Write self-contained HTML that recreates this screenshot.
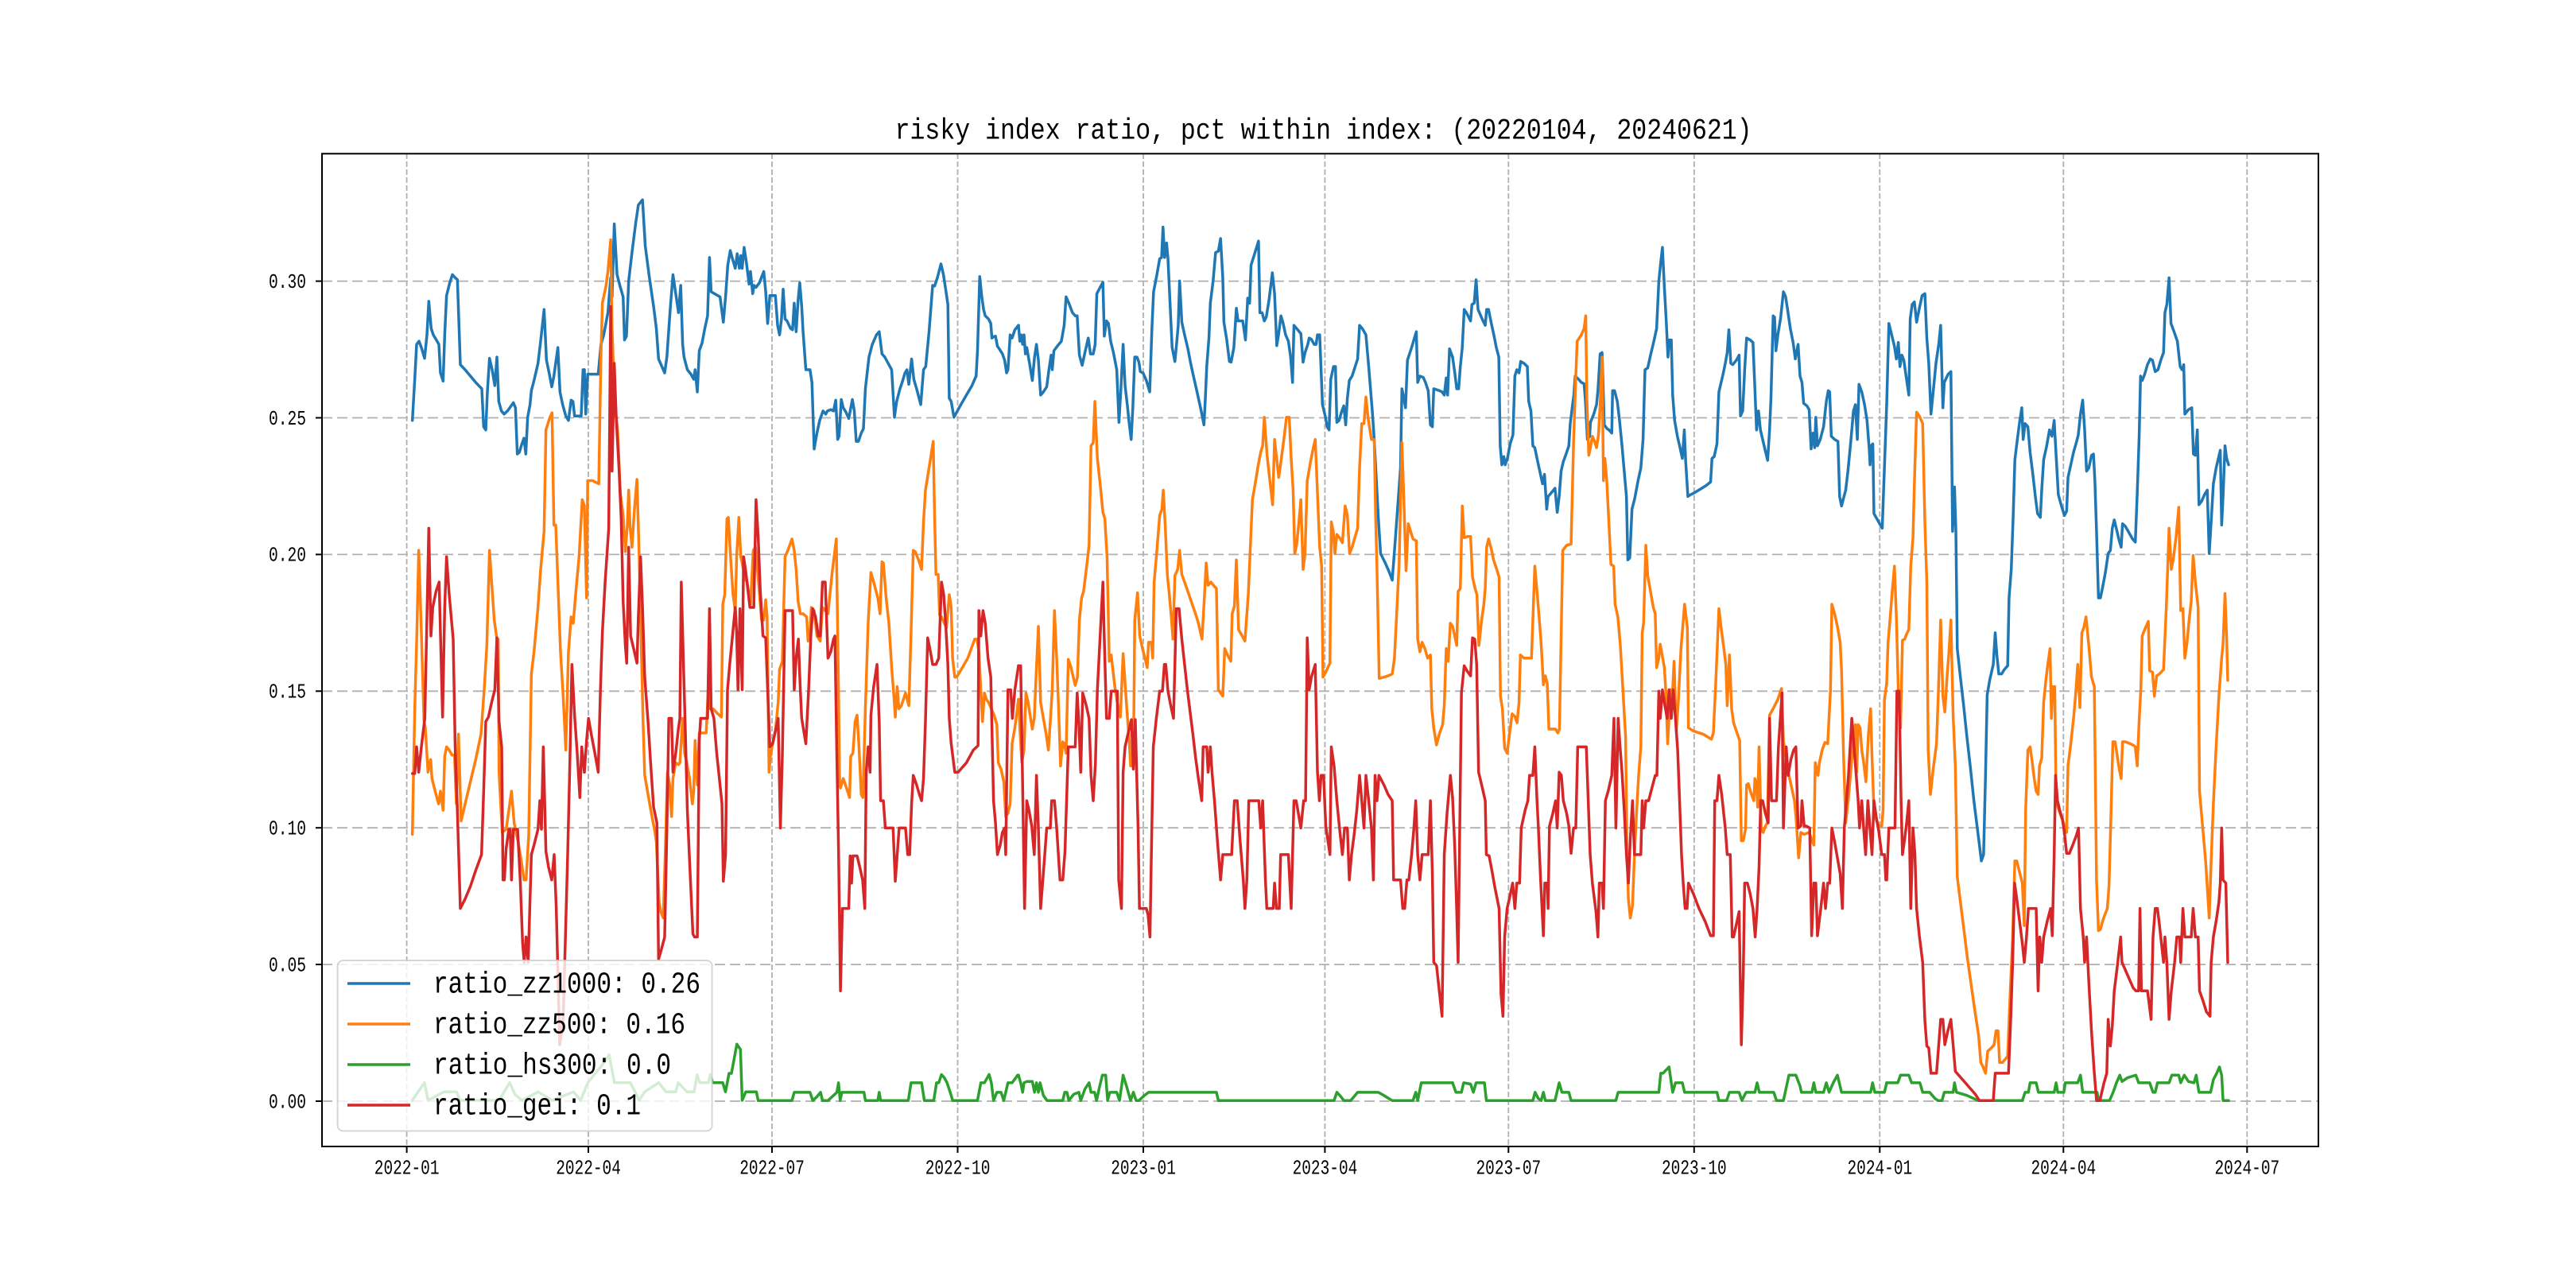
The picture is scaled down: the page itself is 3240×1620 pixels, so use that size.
<!DOCTYPE html>
<html><head><meta charset="utf-8"><style>html,body{margin:0;padding:0;background:#fff}svg{display:block}</style></head>
<body>
<svg xmlns="http://www.w3.org/2000/svg" width="3240" height="1620" viewBox="0 0 3240 1620">
<rect width="3240" height="1620" fill="#fff"/>
<text x="1125.6" y="174.3" font-family="Liberation Mono, monospace" font-size="37" textLength="1078" lengthAdjust="spacingAndGlyphs" fill="#000">risky index ratio, pct within index: (20220104, 20240621)</text>
<g stroke="#b0b0b0" stroke-width="1.8" fill="none">
<g stroke-dasharray="13,6">
<line x1="405" y1="1385" x2="2916" y2="1385"/><line x1="405" y1="1213.1" x2="2916" y2="1213.1"/><line x1="405" y1="1041.2" x2="2916" y2="1041.2"/><line x1="405" y1="869.3" x2="2916" y2="869.3"/><line x1="405" y1="697.4" x2="2916" y2="697.4"/><line x1="405" y1="525.5" x2="2916" y2="525.5"/><line x1="405" y1="353.6" x2="2916" y2="353.6"/>
</g>
<g stroke-dasharray="7,3">
<line x1="511.6" y1="193" x2="511.6" y2="1442"/><line x1="740" y1="193" x2="740" y2="1442"/><line x1="971" y1="193" x2="971" y2="1442"/><line x1="1204.5" y1="193" x2="1204.5" y2="1442"/><line x1="1438" y1="193" x2="1438" y2="1442"/><line x1="1666.4" y1="193" x2="1666.4" y2="1442"/><line x1="1897.3" y1="193" x2="1897.3" y2="1442"/><line x1="2130.8" y1="193" x2="2130.8" y2="1442"/><line x1="2364.3" y1="193" x2="2364.3" y2="1442"/><line x1="2595.3" y1="193" x2="2595.3" y2="1442"/><line x1="2826.3" y1="193" x2="2826.3" y2="1442"/>
</g>
</g>
<g fill="none" stroke-width="3.5" stroke-linejoin="round" stroke-linecap="round">
<!-- BLUE -->
<g stroke="#1f77b4">
<g transform="translate(405,190) scale(0.333333,0.797194)"><polyline vector-effect="non-scaling-stroke" points="341,425 350,360 357,305 366,300 375,310 387,327 396,290 403,237 412,280 420,290 430,297 441,305 447,350 457,363 463,290 470,228 482,208 492,195 503,200 511,203 522,337 540,345 560,355 580,365 603,375 610,435 618,440 624,380 632,327 642,345 652,370 660,325 667,395 677,410 687,415 700,410 712,403 722,397 730,405 737,478 745,475 752,465 762,453 769,478 776,420 785,400 790,378 800,362 815,335 825,300 838,250 847,330 857,350 867,372 875,355 890,310 898,380 908,400 920,418 930,425 940,393 947,395 953,418 965,418 978,418 985,345 990,345"/></g>
<g transform="translate(735,190) scale(0.348214,0.797194)"><polyline vector-effect="non-scaling-stroke" points="0,345 5,415 12,352 30,352 50,352 60,305 70,290 85,255 95,200 100,230 108,115 118,195 130,215 140,230 145,298 152,292 160,205 172,160 185,115 195,85 210,77 220,150 235,200 250,245 260,280 268,328 280,340 290,350 298,325 310,250 320,195 330,225 340,255 348,212 355,305 360,325 372,345 385,352 395,360 400,345 408,380 415,315 425,303 435,280 445,260 452,168 458,222 470,225 490,230 502,270 510,230 518,180 527,157 535,170 545,185 552,162 560,185 565,165 570,185 577,152 585,175 595,210 600,190 608,225 613,212 620,215 632,208 648,190 655,222 662,272 670,228 690,228 698,275 705,290 712,265 718,218 725,265 732,268 745,280 752,282 758,240 765,285 772,235 778,208 785,245 790,285 800,345 815,345 822,365 830,470 840,445 850,425 862,410 872,415 878,410 890,408 900,410 908,393 915,455 920,450 928,392 935,405 945,412 955,422 968,392 975,410 982,458 990,458 1000,445 1008,438 1015,375 1028,325 1040,305 1055,290 1065,285 1075,320 1085,325 1100,337 1110,345 1120,420 1128,395 1140,375 1150,362 1158,350 1165,345 1172,368 1182,328 1190,360 1200,375 1215,400 1225,345 1233,340 1245,285 1258,212 1265,213 1275,200 1288,178 1297,195 1305,218 1313,242 1318,390 1325,395 1335,420 1345,412 1360,400 1380,385 1400,370 1415,355 1420,315 1428,198 1435,228 1442,250 1448,260 1460,265 1468,272 1472,295 1478,293 1485,292 1492,308 1500,313 1510,320 1518,330 1525,350 1530,345 1538,290 1545,295 1555,282 1568,275"/></g>
<g transform="translate(1281,190) scale(0.348214,0.797194)"><polyline vector-effect="non-scaling-stroke" points="0,275 5,300 10,290 15,305 20,290 25,320 30,310 40,335 50,362 58,325 65,305 72,330 80,385 90,380 102,372 110,345 118,322 122,345 128,315 140,308 155,300 165,275 172,230 182,240 195,255 205,260 212,260 220,322 230,338 240,318 252,295 260,320 270,320 277,305 283,225 295,215 305,207 310,292 318,268 325,272 333,300 343,318 355,345 363,428 370,375 378,305 385,370 393,400 400,430 407,455 413,405 420,325 428,325 435,333 440,348 450,350 462,362 474,380 482,280 488,222 500,195 510,170 517,168 522,120 528,168 535,145 540,170 548,245 555,310 565,332 572,300 577,275 582,205 590,270 600,290 612,312 622,335 632,355 645,380 660,410 670,432 675,390 680,340 688,295 693,240 703,205 712,160 722,158 730,138 738,200 742,270 752,297 762,332 768,333 778,310 787,248 793,268 810,268 820,298 828,232 835,240 840,180 853,162 867,142 872,255 880,255 888,268 895,262 905,235 917,192 925,225 933,307 940,288 948,260 955,270 965,290 975,300 983,325 990,365 995,275 1005,280 1020,288 1028,333 1035,318 1045,305 1050,295 1058,297 1068,305 1075,305 1080,290 1088,290 1098,400 1108,418 1115,435 1122,440 1128,360 1138,340 1145,340 1150,428 1158,425 1168,410 1175,402 1182,432 1188,390 1195,362 1205,355 1225,328 1232,275 1242,280 1255,290 1265,340 1278,410 1285,455 1300,580 1308,635 1325,650 1340,665 1350,677 1360,620 1370,560 1380,500 1385,375 1392,390 1398,405 1405,330 1420,310 1437,285 1442,365 1450,355 1462,357 1470,365 1480,378 1488,432 1495,435 1500,375 1520,378 1530,380 1538,385 1545,358 1550,385 1557,312 1568,325"/></g>
<g transform="translate(1827,190) scale(0.348214,0.797194)"><polyline vector-effect="non-scaling-stroke" points="0,325 8,350 15,375 22,375 28,340 35,310 42,250 50,255 58,262 65,268 70,242 78,240 85,203 92,250 100,258 110,268 118,275 123,250 130,250 140,272 150,292 158,310 167,325 172,465 178,495 185,482 190,495 198,485 208,462 218,448 225,355 232,345 240,350 246,332 258,335 270,340 275,395 283,410 290,465 297,468 305,485 315,505 325,525 332,510 340,565 345,545 355,540 370,532 378,570 385,545 392,505 400,490 410,478 420,465 425,430 432,405 438,385 443,355 455,360 465,365 475,367 480,395 487,455 495,450 498,428 510,415 520,400 525,378 533,320 540,318 548,432 558,438 565,440 575,445 578,378 585,378 595,395 603,425 612,465 620,505 628,545 633,645 640,642 648,565 658,548 670,520 680,500 688,455 695,345 705,342 715,322 727,300 737,280 745,205 752,175 758,152 765,215 772,270 778,325 783,298 790,298 795,385 802,425 812,450 820,465 830,485 837,440 842,490 850,545 860,542 870,540 900,532 915,528 932,522 937,485 945,482 955,462 962,380 970,365 978,350 985,335 992,318 998,282 1005,335 1012,337 1025,330 1035,322 1040,418 1048,410 1055,345 1062,295 1075,298 1085,302 1092,375 1098,440 1105,410 1112,440 1120,455 1128,470 1138,488 1145,440 1150,390 1158,260 1163,262 1168,315 1175,290 1185,263 1195,222 1203,230 1210,250 1220,280 1230,302 1238,328 1248,305 1255,355 1262,365 1268,398 1280,402 1288,408 1295,470 1302,445 1308,468 1312,420 1318,465 1328,455 1340,435 1350,395 1357,378 1362,380 1368,450 1380,455 1392,458 1398,545 1405,560 1412,548 1420,535 1428,505 1438,460 1448,410 1455,400 1462,455 1468,368 1478,380 1488,400 1497,425 1505,470 1508,495 1512,465 1518,462 1522,572 1535,582 1545,590 1552,595 1568,400"/></g>
<g transform="translate(2373,190) scale(0.348214,0.797194)"><polyline vector-effect="non-scaling-stroke" points="0,400 8,272 18,290 28,308 35,328 42,302 48,340 55,322 62,330 70,355 80,385 85,265 92,242 100,238 108,270 118,248 128,228 138,225 145,295 152,335 160,415 168,380 178,335 188,305 195,275 203,405 208,365 222,352 232,348 238,600 245,530 250,600 255,785 265,825 278,875 290,925 303,975 315,1025 325,1060 335,1095 342,1120 350,1110 357,985 363,858 372,835 385,810 392,760 398,795 405,825 415,825 425,818 437,812 442,705 450,660 457,575 463,487 472,455 480,428 488,405 493,455 500,430 510,435 518,475 528,510 537,545 545,572 555,578 560,535 567,487 578,465 588,440 597,450 605,425 612,480 620,542 630,558 642,575 650,568 655,515 665,495 675,475 685,460 692,448 700,415 708,393 715,440 722,505 730,500 740,480 747,478 752,520 758,600 765,705 772,705 780,688 790,665 800,635 808,630 815,595 822,582 832,600 840,615 847,625 852,588 862,592 875,602 888,612 898,617 905,540 912,450 917,355 923,362 932,352 942,337 952,328 960,330 970,348 980,345 990,330 1000,318 1005,255 1012,242 1020,200 1027,272 1038,285 1050,300 1060,340 1067,345 1073,337 1077,415 1090,408 1102,405 1108,478 1115,480 1122,440 1128,558 1138,552 1148,542 1158,535 1165,635 1172,585 1180,525 1190,500 1205,472 1210,590 1215,545 1222,465 1228,485 1235,495"/></g>
</g>
<!-- ORANGE -->
<g stroke="#ff7f0e">
<g transform="translate(405,190) scale(0.333333,0.797194)"><polyline vector-effect="non-scaling-stroke" points="341,1078 350,880 358,760 365,630 375,760 385,900 390,910 400,980 410,960 415,990 427,1010 440,1030 447,1010 457,1040 463,955 470,940 480,945 490,953 500,953 507,1030 515,920 525,1057 540,1030 560,995 580,960 600,920 612,850 622,780 632,630 640,680 650,740 660,770 665,770 668,980 680,1075 695,1070 715,1010 725,1060 740,1090 752,1120 762,1150 770,1150 780,1080 790,825 800,790 815,720 825,660 838,600 845,440 860,420 868,413 875,590 882,590 900,790 910,860 920,945 930,790 940,735 948,745 958,695 970,640 982,550 990,560"/></g>
<g transform="translate(735,190) scale(0.348214,0.797194)"><polyline vector-effect="non-scaling-stroke" points="0,560 8,705 12,520 30,520 52,525 60,320 65,240 78,213 85,190 90,165 95,140 100,280 110,400 120,440 130,540 140,575 148,632 155,592 160,535 165,592 172,625 180,570 190,518 198,640 205,770 212,900 218,985 228,1010 240,1040 255,1075 260,1090 265,1140 270,1185 276,1200 285,1210 292,1110 300,980 308,1000 315,1050 320,990 330,965 340,968 345,965 355,895 362,950 370,965 380,990 390,1030 395,1010 400,930 408,1000 415,918 440,918 448,845 455,880 465,880 480,887 495,893 500,715 507,700 515,580 520,578 528,640 537,700 545,725 550,640 558,578 565,640 570,650 580,675 588,680 600,715 610,630 618,625 630,685 640,740 648,740 655,708 660,735 667,980 672,955 680,935 690,915 700,870 705,818 715,805 725,640 735,630 750,612 758,630 765,660 772,710 780,730 790,730 803,735 808,773 815,760 820,720 830,725 840,765 852,773 860,720 870,725 880,730 895,665 910,612 918,850 922,1000 925,1005 935,990 947,1005 958,1020 962,955 970,950 978,900 985,890 992,940 1000,1015 1006,1020 1015,880 1025,745 1035,665 1045,680 1060,705 1068,730 1075,648 1080,650 1090,705 1100,745 1110,815 1118,860 1123,893 1130,845 1136,880 1145,875 1160,855 1172,875 1180,760 1188,630 1195,632 1207,645 1218,660 1225,585 1232,535 1245,500 1260,458 1265,575 1270,668 1278,668 1283,732 1290,735 1300,745 1308,752 1318,700 1325,720 1330,800 1338,830 1345,830 1365,815 1385,800 1410,770 1418,770 1425,790 1432,850 1438,900 1445,855 1452,865 1460,870 1470,880 1480,890 1490,905 1495,965 1505,975 1515,995 1522,1050 1530,1045 1538,1030 1545,935 1555,910 1568,865"/></g>
<g transform="translate(1281,190) scale(0.348214,0.797194)"><polyline vector-effect="non-scaling-stroke" points="0,865 5,910 12,965 20,945 27,855 35,870 42,890 50,912 57,895 65,815 72,750 80,870 90,895 100,920 108,945 115,900 122,850 130,725 138,800 145,880 152,970 160,932 165,935 172,950 180,802 190,815 198,830 205,843 213,830 220,740 228,705 235,695 245,660 255,622 262,465 270,460 276,395 285,485 295,525 305,570 312,580 320,640 328,805 335,795 340,815 348,845 357,870 368,893 378,793 385,840 393,890 400,930 405,970 415,970 420,740 430,697 438,765 448,785 457,800 465,815 470,775 480,775 485,800 490,680 500,630 510,575 518,565 523,535 530,590 538,670 545,700 552,735 558,770 565,670 575,660 582,630 590,668 600,680 612,695 625,712 638,728 650,745 663,770 672,700 678,650 685,685 695,680 710,688 715,690 722,850 730,855 738,860 745,785 755,795 767,805 772,730 780,718 787,645 795,755 808,765 818,773 830,700 838,620 845,550 855,525 865,498 875,475 882,465 888,420 898,480 908,520 918,558 925,455 940,515 948,490 960,450 968,420 978,420 985,485 992,535 998,635 1005,620 1012,590 1020,550 1028,660 1035,635 1043,520 1055,490 1065,468 1072,455 1080,540 1088,625 1095,655 1100,830 1110,822 1125,808 1130,585 1137,600 1143,635 1150,605 1160,610 1170,618 1180,560 1188,575 1196,635 1205,625 1215,610 1225,595 1232,500 1240,430 1248,430 1255,388 1263,422 1275,455 1285,455 1290,575 1295,660 1303,832 1320,830 1335,828 1350,825 1358,800 1365,740 1375,650 1385,460 1392,550 1400,662 1408,588 1415,598 1425,612 1437,615 1442,770 1450,790 1458,775 1468,785 1478,800 1488,795 1493,880 1500,910 1510,937 1520,920 1532,905 1538,875 1545,785 1552,805 1560,745 1568,750"/></g>
<g transform="translate(1827,190) scale(0.348214,0.797194)"><polyline vector-effect="non-scaling-stroke" points="0,750 8,765 15,780 20,695 28,690 35,560 42,610 55,608 65,608 72,672 80,688 88,700 95,780 105,740 113,715 118,690 123,625 130,612 140,628 148,645 158,658 168,672 173,860 180,880 188,942 197,950 205,922 215,888 225,892 233,902 240,870 245,795 258,800 270,800 285,800 297,655 307,705 318,765 323,800 328,842 335,828 342,840 348,912 358,912 372,912 380,918 386,912 393,745 398,630 412,622 428,620 437,460 445,357 450,300 465,290 475,280 481,260 485,390 492,480 498,468 505,450 513,458 520,468 527,448 533,400 540,325 545,520 550,485 557,520 565,590 572,652 582,655 587,715 597,735 606,780 615,848 625,925 630,1100 635,1180 642,1210 650,1190 657,1110 665,1040 672,985 680,940 685,760 690,745 698,622 705,670 715,695 725,720 732,730 737,815 745,800 750,778 757,795 765,815 770,850 777,935 787,850 795,850 800,805 808,915 815,872 825,785 838,715 848,752 852,910 870,915 905,920 935,928 942,918 950,845 962,722 970,752 980,785 987,810 992,875 1000,795 1008,880 1015,902 1025,915 1037,930 1043,1088 1050,1088 1058,1070 1062,1000 1068,998 1078,1013 1088,1025 1092,990 1098,1000 1102,1035 1107,940 1115,1072 1122,1075 1130,1065 1137,1060 1145,890 1160,878 1175,865 1188,848 1195,930 1205,962 1215,985 1225,1005 1235,1025 1242,1060 1250,1115 1258,1075 1270,1078 1288,1075 1300,1090 1305,1095 1310,965 1320,985 1325,965 1335,945 1345,933 1355,935 1365,850 1370,715 1380,730 1390,750 1400,775 1405,820 1412,950 1420,1060 1430,1020 1442,960 1448,925 1455,905 1460,980 1465,905 1472,910 1478,945 1485,965 1493,995 1502,920 1510,880 1515,955 1522,1040 1530,1055 1540,1065 1550,1065 1555,1040 1560,865 1568,840"/></g>
<g transform="translate(2373,190) scale(0.348214,0.797194)"><polyline vector-effect="non-scaling-stroke" points="0,840 5,775 12,740 20,695 28,655 35,735 42,850 50,910 57,772 65,770 72,762 80,755 87,655 95,610 100,525 108,412 118,418 130,430 138,585 145,680 150,945 158,1015 168,975 180,935 187,850 195,740 203,860 210,885 218,830 225,790 232,740 240,890 248,970 255,1145 265,1180 278,1225 290,1268 305,1315 318,1355 332,1395 340,1438 348,1445 357,1455 365,1420 378,1415 388,1410 395,1388 402,1388 408,1438 418,1438 430,1432 437,1428 445,1340 455,1240 463,1120 470,1120 480,1138 490,1155 497,1222 502,1040 510,945 518,940 525,962 533,990 540,1010 547,1015 552,970 560,958 567,870 575,835 582,810 590,785 595,895 600,845 607,845 612,1025 622,1040 635,1055 642,1065 650,1075 655,970 665,935 675,895 683,855 690,810 698,878 705,760 712,752 720,735 730,780 740,830 750,845 758,1150 765,1230 772,1228 780,1215 788,1205 797,1195 803,1160 810,1050 817,932 825,932 833,955 840,975 847,990 852,932 862,932 880,935 893,938 898,940 905,970 912,898 918,850 923,765 932,755 945,742 950,820 960,822 967,860 975,828 985,825 1000,818 1010,720 1020,595 1028,660 1035,645 1045,610 1055,562 1062,725 1070,722 1077,800 1085,775 1092,742 1100,710 1107,638 1115,680 1125,720 1130,1010 1140,1060 1152,1120 1165,1210 1172,1120 1180,1030 1190,940 1200,860 1210,800 1215,778 1222,698 1228,768 1232,835"/></g>
</g>
<!-- GREEN -->
<g stroke="#2ca02c">
<polyline points="518.3,1384.3 533.9,1361.7 538.4,1384 558.5,1373.3 574.1,1373.3 578.6,1384 627.7,1384 641.1,1361.7 647.8,1376.7 656.7,1384 676.8,1373.3 694.6,1384 721.4,1373.3 730.4,1384 739.3,1361.7 757.1,1340 766.1,1326.7 772.8,1361.7 792.9,1361.7 804,1384 810.7,1373.3 828.6,1361.7 837.5,1373.3 850,1373.3 853,1361.7 864,1373.3 873,1373.3 876.8,1351.7 880,1361.7 891,1361.7 893.3,1351.7 896.4,1361.7 909,1361.7 912.5,1373.3 917,1350 920,1350 926.8,1313.3 931.3,1320 933.5,1384 938,1373.3 951.3,1373.3 953.6,1384"/>
<g transform="translate(735,190) scale(0.348214,0.797194)"><polyline vector-effect="non-scaling-stroke" points="628,1498 680,1498 750,1498 758,1485 815,1485 825,1498 840,1492 853,1485 860,1498 880,1498 900,1490 912,1485 918,1470 924,1498 930,1485 1010,1485 1015,1498 1060,1498 1065,1485 1070,1498 1170,1498 1180,1470 1218,1470 1228,1498 1262,1498 1272,1470 1280,1470 1290,1457 1300,1462 1310,1470 1325,1490 1330,1498 1420,1498 1432,1470 1445,1470 1462,1457 1470,1470 1478,1498 1490,1485 1505,1485 1515,1498 1522,1485 1530,1470 1545,1470 1565,1458 1568,1458"/></g>
<g transform="translate(1281,190) scale(0.348214,0.797194)"><polyline vector-effect="non-scaling-stroke" points="0,1458 8,1470 15,1485 20,1470 30,1468 50,1468 58,1485 65,1470 72,1485 78,1470 90,1490 103,1498 160,1498 167,1485 175,1485 182,1498 200,1488 218,1485 225,1498 240,1480 255,1470 262,1485 275,1485 282,1498 292,1478 303,1458 315,1458 322,1498 330,1485 355,1485 365,1498 378,1458 390,1475 405,1498 415,1485 425,1498 435,1498 455,1490 470,1485 715,1485 722,1498 1140,1498 1150,1485 1165,1492 1175,1498 1200,1498 1225,1485 1300,1485 1320,1490 1350,1498 1425,1498 1435,1485 1442,1498 1455,1470 1550,1470 1568,1470"/></g>
<g transform="translate(1827,190) scale(0.348214,0.797194)"><polyline vector-effect="non-scaling-stroke" points="0,1470 12,1485 32,1485 40,1470 65,1472 75,1485 85,1470 115,1470 122,1498 290,1498 298,1485 310,1495 320,1498 328,1485 335,1498 370,1498 385,1470 395,1485 420,1485 428,1498 590,1498 598,1485 745,1485 752,1455 760,1455 782,1445 790,1470 795,1485 805,1470 830,1470 838,1485 955,1485 962,1498 990,1498 1000,1485 1035,1485 1045,1498 1060,1485 1092,1485 1100,1470 1108,1485 1160,1485 1170,1498 1195,1498 1215,1458 1240,1458 1255,1475 1260,1485 1298,1485 1305,1470 1312,1485 1340,1485 1350,1470 1360,1485 1375,1470 1390,1458 1405,1485 1510,1485 1517,1470 1525,1485 1560,1485 1568,1470"/></g>
<g transform="translate(2373,190) scale(0.348214,0.797194)"><polyline vector-effect="non-scaling-stroke" points="0,1470 40,1470 50,1458 80,1458 90,1470 120,1470 130,1485 155,1485 175,1495 185,1498 200,1498 208,1485 240,1485 245,1470 252,1485 290,1490 330,1498 490,1498 500,1485 512,1485 518,1470 540,1470 548,1485 605,1485 612,1470 618,1485 640,1485 645,1470 690,1470 700,1458 708,1485 760,1485 765,1498 805,1498 818,1485 830,1470 842,1458 850,1468 870,1462 900,1458 910,1470 950,1470 962,1485 970,1485 978,1470 1020,1470 1030,1458 1055,1458 1062,1470 1075,1458 1090,1468 1110,1470 1118,1458 1128,1485 1170,1485 1180,1465 1192,1455 1202,1445 1210,1458 1215,1498 1235,1498"/></g>
</g>
<!-- RED -->
<g stroke="#d62728">
<g transform="translate(405,190) scale(0.333333,0.797194)"><polyline vector-effect="non-scaling-stroke" points="341,982 350,982 357,940 365,980 375,940 388,895 403,595 411,765 418,720 430,695 442,680 455,893 463,720 470,640 480,700 495,770 503,950 510,1030 522,1195 540,1180 560,1160 580,1135 602,1110 610,1010 618,900 628,893 640,870 652,850 660,768 668,900 678,940 683,1150 688,1150 695,1100 705,1070 710,1070 715,1150 722,1070 738,1070 748,1150 757,1250 763,1280 770,1240 778,1280 790,1110 800,1095 815,1070 822,1025 828,1070 835,940 845,1105 855,1130 867,1150 876,1110 884,1195 897,1410 910,1370 927,1110 935,970 943,810 953,890 963,950 973,1020 980,940 990,980"/></g>
<g transform="translate(735,190) scale(0.348214,0.797194)"><polyline vector-effect="non-scaling-stroke" points="0,980 8,930 15,895 25,920 40,955 50,980 58,850 65,760 75,680 88,595 95,245 100,505 108,335 115,420 125,500 133,580 140,710 148,780 153,808 160,625 167,765 178,785 190,808 195,735 203,640 210,720 218,830 230,900 240,970 250,1035 262,1060 268,1275 278,1260 290,1240 298,1070 305,895 315,895 320,980 330,950 340,910 345,895 350,680 358,810 365,920 372,1040 380,1120 392,1235 398,1240 408,1240 415,930 420,895 430,895 445,895 452,722 458,880 468,895 478,950 490,1000 497,1030 502,1152 510,1110 517,850 525,810 535,765 545,720 550,760 555,850 562,722 570,850 575,640 582,660 590,690 598,720 612,720 620,550 628,610 635,690 645,765 655,768 662,850 670,940 680,935 690,915 700,895 708,1068 715,955 725,725 740,725 752,725 758,850 765,800 773,770 780,850 785,895 800,935 810,850 818,765 825,722 835,735 845,765 852,765 860,680 870,680 880,800 890,790 900,770 905,765 912,955 918,1100 925,1325 932,1195 945,1195 955,1195 960,1112 965,1155 970,1112 985,1112 995,1130 1005,1150 1013,1195 1018,980 1025,940 1032,980 1035,890 1045,845 1057,810 1065,900 1070,1025 1080,1025 1087,1068 1100,1068 1115,1068 1123,1152 1130,1110 1137,1068 1150,1068 1160,1068 1168,1110 1175,1110 1182,1030 1188,985 1200,1000 1210,1015 1218,1025 1225,990 1232,900 1240,768 1248,785 1258,810 1270,810 1280,800 1290,680 1298,700 1305,745 1313,810 1318,895 1325,935 1338,980 1350,980 1380,965 1405,945 1422,938 1425,725 1432,765 1440,725 1448,745 1458,800 1468,830 1478,1025 1485,1060 1492,1110 1502,1095 1510,1075 1518,1068 1522,1110 1530,850 1540,850 1546,895 1555,850 1568,812"/></g>
<g transform="translate(1281,190) scale(0.348214,0.797194)"><polyline vector-effect="non-scaling-stroke" points="0,812 8,812 15,1000 22,1195 30,1025 38,1040 48,1065 57,1110 65,985 72,1070 80,1195 88,1150 95,1110 102,1068 115,1068 120,1025 130,1025 138,1068 150,1150 160,1150 168,1105 180,940 195,940 205,940 212,855 218,900 225,980 232,855 245,875 255,895 262,985 270,1025 278,965 285,850 295,765 305,680 310,770 318,895 328,895 335,852 345,852 357,852 362,1150 372,1195 378,980 385,940 398,915 408,897 415,975 422,897 432,1068 437,1195 450,1195 462,1195 468,1205 475,1240 480,1110 487,940 498,895 510,852 520,852 527,810 532,810 540,852 550,875 560,895 565,810 570,722 580,722 590,770 600,810 610,850 620,885 630,920 640,958 650,990 662,1025 667,940 680,940 685,980 693,940 700,985 708,1025 718,1085 730,1150 738,1110 752,1110 770,1110 780,1025 790,1025 800,1085 812,1150 818,1195 825,1150 832,1025 842,1025 855,1025 868,1025 875,1068 882,1025 892,1150 897,1195 910,1195 920,1195 925,1155 932,1195 942,1195 947,1110 960,1110 975,1110 985,1195 995,1025 1003,1025 1013,1050 1020,1068 1030,1025 1037,1025 1043,768 1050,850 1058,830 1065,820 1072,810 1080,980 1087,1025 1093,985 1102,985 1110,1065 1125,1110 1130,940 1140,970 1150,1025 1160,1070 1170,1110 1178,1068 1188,1068 1195,1150 1203,1110 1212,1080 1222,1040 1232,985 1240,1025 1248,1068 1255,985 1265,1025 1275,1068 1282,1150 1288,985 1295,1025 1302,985 1320,1000 1335,1015 1350,1025 1355,1150 1370,1150 1380,1150 1388,1195 1395,1195 1403,1150 1410,1150 1420,1110 1428,1070 1435,1025 1442,1110 1450,1150 1458,1110 1470,1110 1480,1110 1488,1025 1495,1140 1500,1280 1510,1285 1520,1325 1530,1365 1538,1110 1548,1045 1560,985 1568,1020"/></g>
<g transform="translate(1827,190) scale(0.348214,0.797194)"><polyline vector-effect="non-scaling-stroke" points="0,1020 8,1100 15,1200 20,1280 25,1100 32,855 42,812 52,820 65,828 72,768 80,770 87,810 94,980 105,1000 118,1025 122,1110 132,1112 142,1135 152,1160 168,1195 175,1330 182,1365 188,1240 197,1195 205,1180 217,1155 225,1195 232,1155 242,1155 248,1068 262,1040 272,1025 278,985 290,985 297,940 305,1025 310,1068 318,1150 328,1238 333,1155 342,1155 345,1195 350,1065 362,1045 372,1025 378,1068 385,980 393,985 400,1025 412,1045 420,1065 428,1108 437,1068 445,1068 452,940 470,940 483,940 490,1025 497,1110 505,1155 518,1200 525,1240 530,1155 540,1155 545,1195 552,1025 562,1010 575,985 583,895 590,1068 598,895 605,940 612,980 620,1040 628,1110 635,1155 642,1085 650,1025 657,1110 667,1110 680,1110 685,1025 690,1068 698,1025 708,1025 720,1005 732,985 738,985 745,852 750,895 758,850 765,870 775,895 782,850 790,895 797,850 805,895 813,945 820,1025 827,1110 833,1155 840,1195 847,1195 852,1155 870,1172 890,1195 912,1215 932,1238 942,1238 947,1025 955,1025 962,985 972,1015 985,1068 992,1110 1003,1110 1010,1240 1015,1240 1025,1220 1035,1200 1043,1410 1050,1300 1055,1155 1065,1155 1075,1172 1085,1195 1093,1240 1100,1195 1107,1130 1113,1025 1120,1025 1130,1045 1140,1060 1145,895 1152,1025 1162,1025 1170,1025 1177,940 1190,855 1195,1068 1205,940 1212,985 1222,960 1232,945 1240,940 1248,1068 1258,1065 1262,1025 1270,1065 1278,1065 1290,1068 1297,1238 1305,1155 1312,1155 1318,1238 1330,1195 1340,1155 1347,1195 1355,1155 1362,1155 1370,1068 1380,1090 1390,1115 1400,1140 1408,1195 1415,1068 1430,985 1442,895 1450,940 1458,985 1465,1025 1470,1068 1478,1025 1485,1070 1492,1110 1500,1025 1508,1070 1515,1110 1522,1025 1530,1050 1540,1075 1550,1110 1560,1110 1565,1150 1568,1150"/></g>
<g transform="translate(2373,190) scale(0.348214,0.797194)"><polyline vector-effect="non-scaling-stroke" points="0,1150 8,1068 20,1068 30,1068 37,852 45,852 52,1025 57,1110 65,1085 72,1060 80,1025 87,1195 95,1068 102,1110 108,1195 118,1238 130,1280 138,1372 145,1412 152,1415 160,1455 170,1455 180,1455 188,1410 195,1370 203,1370 210,1410 220,1390 232,1370 240,1410 248,1452 260,1458 280,1468 300,1478 320,1488 335,1498 350,1498 365,1498 385,1498 392,1455 405,1455 418,1455 432,1455 440,1455 448,1370 455,1280 462,1155 470,1180 480,1215 490,1250 497,1280 505,1240 512,1195 525,1195 540,1195 547,1325 553,1240 560,1280 567,1240 580,1215 592,1195 598,1238 605,1110 610,985 617,1025 625,1040 635,1055 642,1075 650,1108 660,1108 672,1095 685,1080 693,1068 700,1195 710,1240 715,1280 722,1240 730,1310 740,1390 750,1455 758,1498 770,1498 785,1470 795,1455 800,1370 808,1412 815,1380 822,1325 832,1290 845,1240 850,1280 860,1290 875,1305 890,1320 900,1325 910,1325 915,1195 920,1325 928,1325 942,1325 948,1345 955,1370 962,1240 970,1195 978,1195 985,1220 995,1260 1000,1280 1005,1240 1012,1280 1020,1370 1028,1325 1040,1280 1048,1240 1058,1240 1062,1280 1070,1195 1077,1240 1090,1240 1100,1240 1107,1195 1115,1240 1125,1240 1130,1325 1142,1340 1155,1358 1168,1365 1172,1280 1180,1240 1190,1215 1200,1185 1205,1155 1210,1068 1215,1150 1225,1155 1232,1280"/></g>
</g>
</g>
<!-- axes spines -->
<rect x="405" y="193.3" width="2511" height="1248.7" fill="none" stroke="#000" stroke-width="2"/>
<!-- legend -->
<rect x="424.6" y="1208" width="471" height="214.5" rx="7" ry="7" fill="#fff" fill-opacity="0.8" stroke="#cccccc" stroke-opacity="0.8" stroke-width="2"/>
<g stroke-width="3.5">
<line x1="437" y1="1237" x2="516" y2="1237" stroke="#1f77b4"/>
<line x1="437" y1="1288" x2="516" y2="1288" stroke="#ff7f0e"/>
<line x1="437" y1="1339" x2="516" y2="1339" stroke="#2ca02c"/>
<line x1="437" y1="1390" x2="516" y2="1390" stroke="#d62728"/>
</g>
<g font-family="Liberation Mono, monospace" font-size="38" fill="#000">
<text x="545" y="1248.3" textLength="336" lengthAdjust="spacingAndGlyphs">ratio_zz1000: 0.26</text>
<text x="545" y="1299.3" textLength="317" lengthAdjust="spacingAndGlyphs">ratio_zz500: 0.16</text>
<text x="545" y="1350.3" textLength="299" lengthAdjust="spacingAndGlyphs">ratio_hs300: 0.0</text>
<text x="545" y="1401.3" textLength="261" lengthAdjust="spacingAndGlyphs">ratio_gei: 0.1</text>
</g>
<!-- ticks -->
<g stroke="#000" stroke-width="2">
<line x1="397" y1="1385" x2="405" y2="1385"/><line x1="397" y1="1213.1" x2="405" y2="1213.1"/><line x1="397" y1="1041.2" x2="405" y2="1041.2"/><line x1="397" y1="869.3" x2="405" y2="869.3"/><line x1="397" y1="697.4" x2="405" y2="697.4"/><line x1="397" y1="525.5" x2="405" y2="525.5"/><line x1="397" y1="353.6" x2="405" y2="353.6"/>
<line x1="511.6" y1="1442" x2="511.6" y2="1450"/><line x1="740" y1="1442" x2="740" y2="1450"/><line x1="971" y1="1442" x2="971" y2="1450"/><line x1="1204.5" y1="1442" x2="1204.5" y2="1450"/><line x1="1438" y1="1442" x2="1438" y2="1450"/><line x1="1666.4" y1="1442" x2="1666.4" y2="1450"/><line x1="1897.3" y1="1442" x2="1897.3" y2="1450"/><line x1="2130.8" y1="1442" x2="2130.8" y2="1450"/><line x1="2364.3" y1="1442" x2="2364.3" y2="1450"/><line x1="2595.3" y1="1442" x2="2595.3" y2="1450"/><line x1="2826.3" y1="1442" x2="2826.3" y2="1450"/>
</g>
<g font-family="Liberation Mono, monospace" font-size="25.5" fill="#000">
<text x="338" y="1393.3" textLength="47" lengthAdjust="spacingAndGlyphs">0.00</text>
<text x="338" y="1221.4" textLength="47" lengthAdjust="spacingAndGlyphs">0.05</text>
<text x="338" y="1049.5" textLength="47" lengthAdjust="spacingAndGlyphs">0.10</text>
<text x="338" y="877.6" textLength="47" lengthAdjust="spacingAndGlyphs">0.15</text>
<text x="338" y="705.7" textLength="47" lengthAdjust="spacingAndGlyphs">0.20</text>
<text x="338" y="533.8" textLength="47" lengthAdjust="spacingAndGlyphs">0.25</text>
<text x="338" y="361.9" textLength="47" lengthAdjust="spacingAndGlyphs">0.30</text>
<text x="470.8" y="1476.7" textLength="81.7" lengthAdjust="spacingAndGlyphs">2022-01</text>
<text x="699.2" y="1476.7" textLength="81.7" lengthAdjust="spacingAndGlyphs">2022-04</text>
<text x="930.2" y="1476.7" textLength="81.7" lengthAdjust="spacingAndGlyphs">2022-07</text>
<text x="1163.7" y="1476.7" textLength="81.7" lengthAdjust="spacingAndGlyphs">2022-10</text>
<text x="1397.2" y="1476.7" textLength="81.7" lengthAdjust="spacingAndGlyphs">2023-01</text>
<text x="1625.6" y="1476.7" textLength="81.7" lengthAdjust="spacingAndGlyphs">2023-04</text>
<text x="1856.5" y="1476.7" textLength="81.7" lengthAdjust="spacingAndGlyphs">2023-07</text>
<text x="2090" y="1476.7" textLength="81.7" lengthAdjust="spacingAndGlyphs">2023-10</text>
<text x="2323.5" y="1476.7" textLength="81.7" lengthAdjust="spacingAndGlyphs">2024-01</text>
<text x="2554.5" y="1476.7" textLength="81.7" lengthAdjust="spacingAndGlyphs">2024-04</text>
<text x="2785.5" y="1476.7" textLength="81.7" lengthAdjust="spacingAndGlyphs">2024-07</text>
</g>
</svg>
</body></html>
